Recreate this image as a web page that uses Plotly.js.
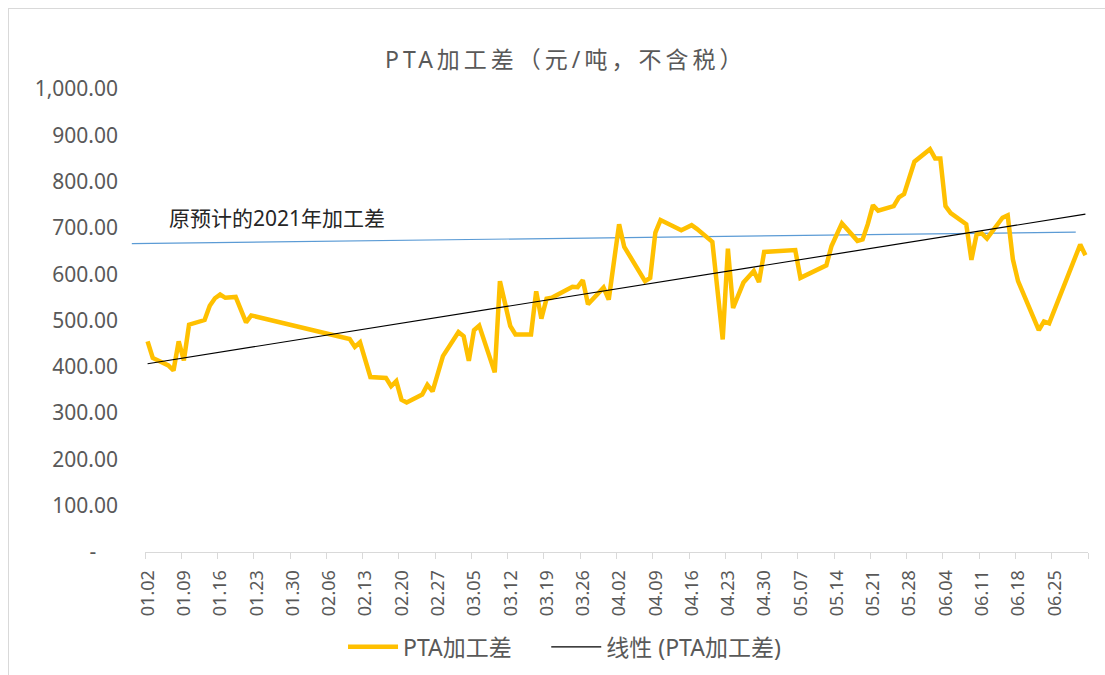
<!DOCTYPE html>
<html>
<head>
<meta charset="utf-8">
<script src="https://cdn.plot.ly/plotly-3.0.1.min.js"></script>
<style>
  html, body { margin: 0; padding: 0; background: #fff; }
  #wrap { position: relative; width: 1105px; height: 675px; overflow: hidden; }
  #chart { position: absolute; left: 0; top: 0; width: 1105px; height: 675px; }
  #frame { position: absolute; left: 8px; top: 8px; width: 1200px; height: 800px;
           border-left: 1px solid #d9d9d9; border-top: 1px solid #d9d9d9; pointer-events: none; }
  .gtitle { letter-spacing: 4px; }
</style>
</head>
<body>
<div id="wrap"><div id="chart"></div><div id="frame"></div></div>
<script>
// ---- data (year 2020 date axis, MM.DD) ----
const YEAR = 2020;
const dates = [
  '01.02','01.03','01.06','01.07','01.08','01.09','01.10','01.13','01.14','01.15',
  '01.16','01.17','01.19','01.21','01.22','02.10','02.11','02.12','02.14','02.17',
  '02.18','02.19','02.20','02.21','02.24','02.25','02.26','02.28','03.02','03.03',
  '03.04','03.05','03.06','03.09','03.10','03.11','03.12','03.13','03.16','03.17',
  '03.18','03.19','03.20','03.24','03.25','03.26','03.27','03.30','03.31','04.02',
  '04.03','04.07','04.08','04.09','04.10','04.14','04.16','04.17','04.20','04.22',
  '04.23','04.24','04.26','04.28','04.29','04.30','05.06','05.07','05.12','05.13',
  '05.15','05.18','05.19','05.20','05.21','05.22','05.25','05.26','05.27','05.29',
  '06.01','06.02','06.03','06.04','06.05','06.08','06.09','06.10','06.11','06.12',
  '06.15','06.16','06.17','06.18','06.22','06.23','06.24','06.30','07.01'
];
const spread = [
  455, 419, 403, 392, 455, 414, 491, 501, 532, 548,
  556, 549, 551, 496, 511, 460, 443, 453, 378, 376,
  358, 369, 329, 323, 340, 361, 347, 423, 475, 466,
  413, 479, 489, 388, 585, 531, 488, 470, 470, 563,
  504, 547, 549, 573, 572, 587, 535, 571, 545, 708,
  659, 585, 592, 690, 717, 695, 706, 698, 670, 459,
  655, 527, 582, 607, 583, 648, 652, 592, 619, 661,
  710, 672, 675, 708, 749, 737, 747, 766, 773, 843,
  870, 850, 850, 747, 732, 708, 631, 686, 688, 677,
  722, 727, 632, 585, 479, 498, 494, 664, 641
];
const tickLabels = [
  '01.02','01.09','01.16','01.23','01.30','02.06','02.13','02.20','02.27','03.05',
  '03.12','03.19','03.26','04.02','04.09','04.16','04.23','04.30','05.07','05.14',
  '05.21','05.28','06.04','06.11','06.18','06.25'
];
const axisStart = '01.02';
const axisEnd = '07.01';
const yTickVals = [0,100,200,300,400,500,600,700,800,900,1000];
const yTickText = ['-\u00a0\u00a0\u00a0\u00a0','100.00','200.00','300.00','400.00','500.00','600.00','700.00','800.00','900.00','1,000.00'];
const planLabel = '原预计的2021年加工差';
const planStart = 666;
const planEnd = 691;
const seriesName = 'PTA加工差';
const trendName = '线性 (PTA加工差)';
const titleText = 'PTA加工差（元/吨，不含税）';

// ---- helpers ----
const DAY = 86400000;
function toMs(s) { const p = s.split('.'); return Date.UTC(YEAR, +p[0] - 1, +p[1]); }
const xs = dates.map(toMs);

// linear trend (least squares over date)
const n = xs.length;
const xd = xs.map(v => v / DAY);
const mx = xd.reduce((a, b) => a + b, 0) / n;
const my = spread.reduce((a, b) => a + b, 0) / n;
let sxy = 0, sxx = 0;
for (let i = 0; i < n; i++) { sxy += (xd[i] - mx) * (spread[i] - my); sxx += (xd[i] - mx) ** 2; }
const slope = sxy / sxx, icpt = my - slope * mx;
const trendX = [xs[0], xs[n - 1]];
const trendY = trendX.map(v => icpt + slope * v / DAY);

// category boundaries (ticks between categories)
const tickVals = tickLabels.map(s => toMs(s) - DAY / 2).concat([toMs(axisEnd) + DAY / 2]);
const tickText = tickLabels.concat(['']);

const FONT = '"Noto Sans", "Noto Sans CJK SC", sans-serif';
const GREY = '#595959';

const traces = [
  { x: xs, y: spread, type: 'scatter', mode: 'lines', name: seriesName,
    line: { color: '#FFC000', width: 4.5 }, hoverinfo: 'x+y', legend: 'legend' },
  { x: trendX, y: trendY, type: 'scatter', mode: 'lines', name: trendName,
    line: { color: '#000000', width: 1.2 }, legend: 'legend2' }
];

const legendBase = { orientation: 'h', xanchor: 'left', y: -0.205, yanchor: 'middle',
  font: { size: 23, color: GREY, family: FONT }, itemwidth: 50, bgcolor: 'rgba(0,0,0,0)' };

const layout = {
  width: 1105, height: 675,
  margin: { l: 145, r: 17, t: 89, b: 123, autoexpand: false },
  paper_bgcolor: '#ffffff', plot_bgcolor: '#ffffff',
  font: { family: FONT, color: GREY },
  title: { text: titleText, font: { size: 23, color: GREY, family: FONT },
           x: 0.512, xanchor: 'center', y: 0.911, yanchor: 'middle', yref: 'container' },
  xaxis: {
    type: 'date',
    range: [toMs(axisStart) - DAY / 2, toMs(axisEnd) + DAY / 2],
    tickmode: 'array', tickvals: tickVals, ticktext: tickText,
    tickangle: -90, ticks: 'outside', ticklen: 6, tickcolor: '#d9d9d9',
    ticklabelshift: 3, ticklabelstandoff: 4,
    showline: true, linecolor: '#d9d9d9', linewidth: 1,
    showgrid: false, zeroline: false,
    tickfont: { size: 18, color: GREY, family: FONT }
  },
  yaxis: {
    range: [0, 1000],
    tickmode: 'array', tickvals: yTickVals, ticktext: yTickText,
    showgrid: false, showline: false, zeroline: false, ticks: '',
    ticklabelstandoff: 26,
    tickfont: { size: 21, color: GREY, family: FONT }
  },
  showlegend: true,
  legend: Object.assign({}, legendBase, { x: 0.21 }),
  legend2: Object.assign({}, legendBase, { x: 0.4255 }),
  shapes: [
    { type: 'line', xref: 'paper', yref: 'y', x0: -0.014, x1: 0.987, y0: planStart, y1: planEnd,
      line: { color: '#5B9BD5', width: 1.2 }, layer: 'below' }
  ],
  annotations: [
    { text: planLabel, xref: 'paper', yref: 'y', x: 0.0235, y: 721, xanchor: 'left', yanchor: 'middle',
      showarrow: false, font: { size: 21, color: '#262626', family: FONT } }
  ]
};

Plotly.newPlot('chart', traces, layout, { displayModeBar: false, staticPlot: true });
</script>
</body>
</html>
